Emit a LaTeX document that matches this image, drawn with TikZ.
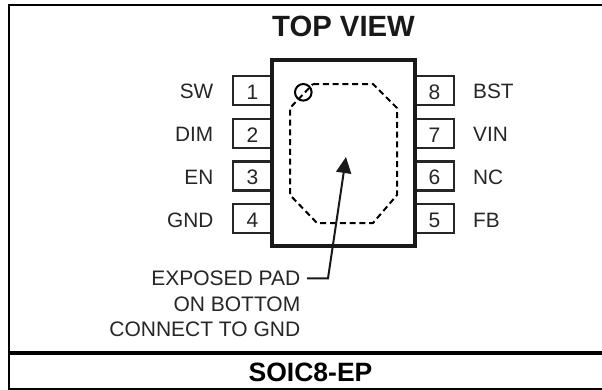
\documentclass[tikz,border=0pt]{standalone}
\usepackage{fontspec}
\setmainfont{Liberation Sans}
\usetikzlibrary{arrows.meta}
\tikzset{x=1pt,y=-1pt,
 pinbox/.style={draw=black!85,line width=2.2pt,fill=white,minimum width=39pt,minimum height=29pt,inner sep=0pt,text height=17pt,text depth=0pt,font=\fontsize{21}{23}\selectfont,text=black!85},
 pinlabel/.style={font=\fontsize{20.8}{23}\selectfont,text=black!85,inner sep=0pt},
 notelabel/.style={font=\fontsize{21}{23}\selectfont,text=black!85,inner sep=0pt,anchor=base east},
 heading/.style={font=\bfseries\fontsize{29.3}{31}\selectfont,text=black!90,inner sep=0pt,anchor=base}}
\begin{document}
\begin{tikzpicture}
\useasboundingbox (0,0) rectangle (602,389);
\fill[white] (0,0) rectangle (602,389);
\draw[line width=2pt] (602,5) -- (9,5) -- (9,388.5) -- (602,388.5);
\draw[line width=4pt] (9,353) -- (602,353);
\node[heading] (title) at (343.5,36.7) {TOP VIEW};
\node[heading,font=\bfseries\fontsize{26.5}{28}\selectfont,text=black] (pkg) at (310.5,381.5) {SOIC8-EP};
\foreach \n/\y/\t in {1/90.5/SW,2/133.5/DIM,3/176/EN,4/218.8/GND}{
  \node[pinbox] (p\n) at (252.5,\y) {\n};
  \node[pinlabel,anchor=base east] (l\n) at (213.5,\y+8.3) {\t};
}
\foreach \n/\y/\t in {8/90.5/BST,7/133.5/VIN,6/176/NC,5/218.8/FB}{
  \node[pinbox] (p\n) at (434.5,\y) {\n};
  \node[pinlabel,anchor=base west] (l\n) at (473,\y+8.3) {\t};
}
\node[draw=black!90,line width=4.4pt,fill=white,minimum width=142.6pt,minimum height=186pt,inner sep=0pt] (chip) at (343.5,153) {};
\draw[line width=2pt,dash pattern=on 6pt off 3.8pt] (313,84) -- (373,84) -- (397,108) -- (397,195) -- (373,223) -- (317,223) -- (290,195) -- (290,108) -- cycle;
\node[draw=black,line width=2pt,circle,minimum size=16.6pt,inner sep=0pt] (pin1mark) at (303.3,92.3) {};
\coordinate (tip) at (346,157);
\coordinate (bend) at (328,278.3);
\node[notelabel] (n1) at (300.5,285.8) {EXPOSED PAD};
\node[notelabel] (n2) at (300.5,311.5) {ON BOTTOM};
\node[notelabel] (n3) at (300.5,336.8) {CONNECT TO GND};
\coordinate (lead) at (307,278.3);
\draw[line width=2pt,black!90,-{Triangle[length=16pt,width=15pt]}] (lead) -- (bend) -- (tip);
\end{tikzpicture}
\end{document}
